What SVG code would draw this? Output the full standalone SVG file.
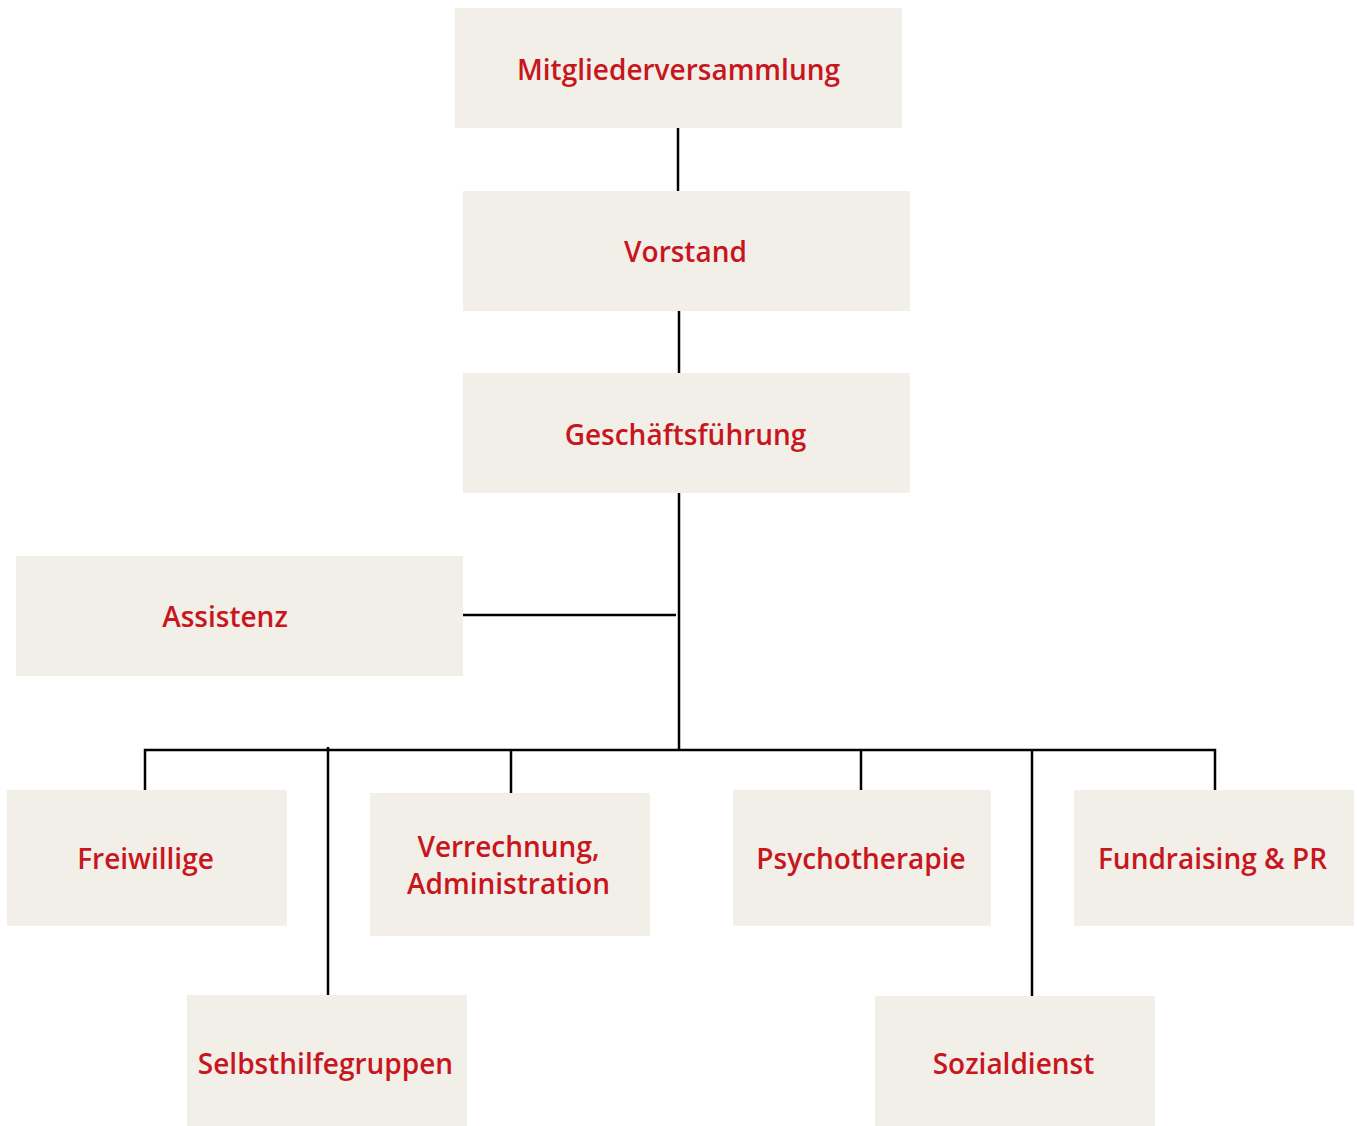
<svg xmlns="http://www.w3.org/2000/svg" width="1357" height="1126" viewBox="0 0 1357 1126">
<style>
.box{fill:#F2EFE8;}
.lbl{font-family:"Open Sans","Noto Sans","Liberation Sans",sans-serif;font-weight:600;font-size:28px;fill:#C8161E;text-anchor:middle;}
.con{stroke:#000;stroke-width:2.5;fill:none;}
</style>
<rect width="1357" height="1126" fill="#fff"/>
<g id="connectors">
<line class="con" x1="678" y1="128" x2="678" y2="191"/>
<line class="con" x1="679" y1="311" x2="679" y2="373"/>
<line class="con" x1="679" y1="493" x2="679" y2="751"/>
<line class="con" x1="463" y1="615" x2="676" y2="615"/>
<polyline class="con" points="145,790 145,750 1215,750 1215,795"/>
<line class="con" x1="328" y1="747" x2="328" y2="995"/>
<line class="con" x1="511" y1="750" x2="511" y2="793"/>
<line class="con" x1="861" y1="750" x2="861" y2="790"/>
<line class="con" x1="1032" y1="750" x2="1032" y2="998"/>
</g>
<g id="mitgliederversammlung"><rect class="box" x="455" y="8" width="447" height="120"/><text class="lbl" x="678.5" y="80">Mitgliederversammlung</text></g>
<g id="vorstand"><rect class="box" x="463" y="191" width="447" height="120"/><text class="lbl" x="685.5" y="262">Vorstand</text></g>
<g id="geschaeftsfuehrung"><rect class="box" x="463" y="373" width="447" height="120"/><text class="lbl" x="685.5" y="445">Geschäftsführung</text></g>
<g id="assistenz"><rect class="box" x="16" y="556" width="447" height="120"/><text class="lbl" x="225" y="627">Assistenz</text></g>
<g id="freiwillige"><rect class="box" x="7" y="790" width="280" height="136"/><text class="lbl" x="145.5" y="869">Freiwillige</text></g>
<g id="verrechnung"><rect class="box" x="370" y="793" width="280" height="143"/><text class="lbl" x="508.5" y="857">Verrechnung,</text><text class="lbl" x="508.5" y="894">Administration</text></g>
<g id="psychotherapie"><rect class="box" x="733" y="790" width="258" height="136"/><text class="lbl" x="861" y="869">Psychotherapie</text></g>
<g id="fundraising"><rect class="box" x="1074" y="790" width="280" height="136"/><text class="lbl" x="1212.5" y="869">Fundraising &amp; PR</text></g>
<g id="selbsthilfegruppen"><rect class="box" x="187" y="995" width="280" height="131"/><text class="lbl" x="325.5" y="1074">Selbsthilfegruppen</text></g>
<g id="sozialdienst"><rect class="box" x="875" y="996" width="280" height="130"/><text class="lbl" x="1013.5" y="1074">Sozialdienst</text></g>
</svg>
